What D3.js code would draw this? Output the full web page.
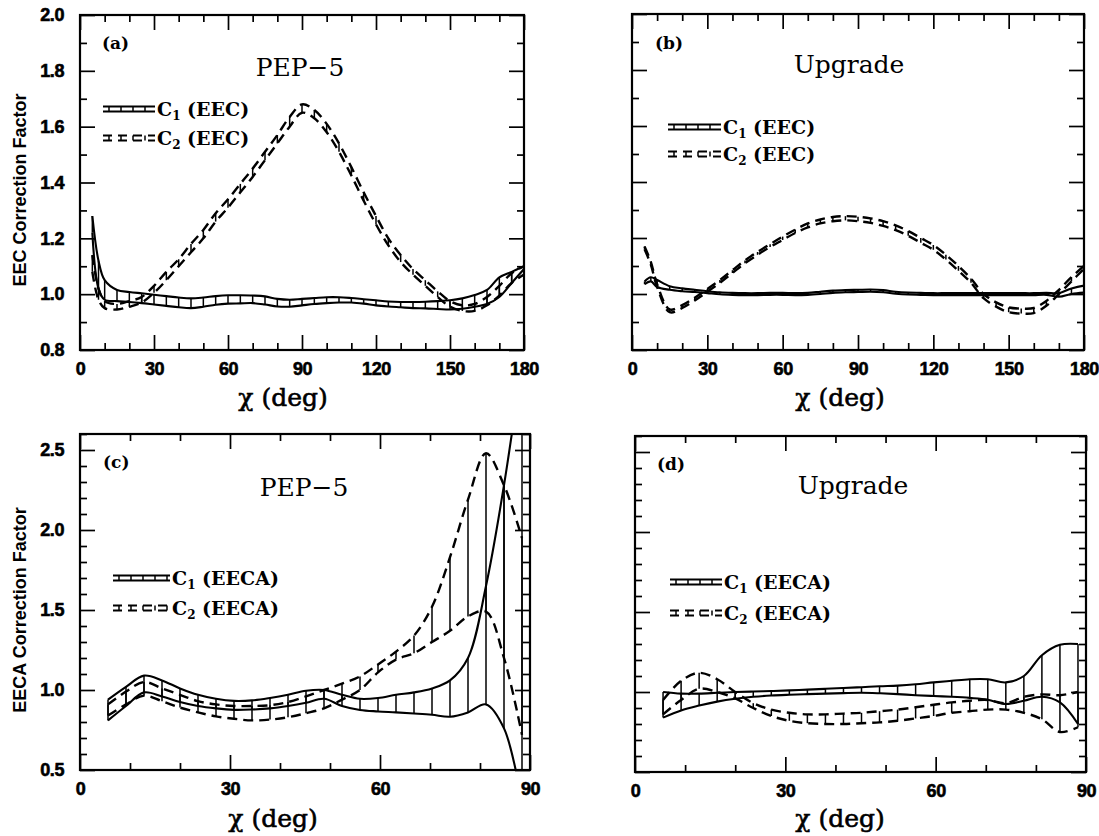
<!DOCTYPE html>
<html>
<head>
<meta charset="utf-8">
<script src="https://cdn.jsdelivr.net/npm/d3@7"></script>
<style>
  body { margin: 0; background: #fff; }
</style>
</head>
<body>
<script>
// chi bins (deg)
const chiWide = [5, 7.5, 10, 15, 20, 25, 30, 35, 40, 45, 50, 55, 60, 65, 70, 75, 80, 85, 90,
  95, 100, 105, 110, 115, 120, 125, 130, 135, 140, 145, 150, 155, 160, 165, 170, 175, 180];
const chiNarrow = [5.6, 9.2, 12.8, 16.4, 20, 23.6, 27.2, 30.8, 34.4, 38, 41.6, 45.2, 48.8,
  52.4, 56, 59.6, 63.2, 66.8, 70.4, 74, 77.6, 81.2, 84.8, 88.4];

// (a) EEC, PEP-5
const eecPepC1Hi = [1.28, 1.12, 1.05, 1.015, 1.008, 1.003, 0.998, 0.993, 0.988, 0.985, 0.988, 0.993, 0.996,
  0.996, 0.995, 0.992, 0.983, 0.980, 0.983, 0.986, 0.989, 0.989, 0.986, 0.982, 0.978, 0.974, 0.972,
  0.972, 0.973, 0.975, 0.978, 0.985, 0.997, 1.015, 1.06, 1.08, 1.10];
const eecPepC1Lo = [1.22, 1.02, 0.98, 0.975, 0.972, 0.968, 0.963, 0.958, 0.953, 0.950, 0.955, 0.962, 0.966,
  0.967, 0.968, 0.963, 0.956, 0.955, 0.960, 0.965, 0.968, 0.970, 0.970, 0.966, 0.960, 0.956, 0.953,
  0.950, 0.949, 0.947, 0.945, 0.948, 0.955, 0.965, 0.990, 1.04, 1.09];
const eecPepC2Hi = [1.14, 1.02, 0.975, 0.965, 0.975, 0.99, 1.03, 1.08, 1.125, 1.18, 1.23, 1.29, 1.34,
  1.395, 1.45, 1.51, 1.57, 1.635, 1.68, 1.66, 1.61, 1.54, 1.455, 1.365, 1.28, 1.2, 1.14,
  1.09, 1.05, 1.01, 0.975, 0.96, 0.965, 0.99, 1.03, 1.075, 1.1];
const eecPepC2Lo = [1.08, 0.98, 0.95, 0.945, 0.955, 0.97, 1.005, 1.05, 1.10, 1.15, 1.20, 1.26, 1.31,
  1.365, 1.42, 1.48, 1.54, 1.60, 1.65, 1.63, 1.58, 1.51, 1.425, 1.335, 1.25, 1.175, 1.115,
  1.07, 1.03, 0.99, 0.955, 0.94, 0.94, 0.96, 0.995, 1.04, 1.07];

// (b) EEC, Upgrade
const eecUpgC1Hi = [1.045, 1.06, 1.05, 1.028, 1.02, 1.015, 1.01, 1.006, 1.004, 1.003, 1.003, 1.004, 1.004,
  1.003, 1.004, 1.008, 1.012, 1.014, 1.015, 1.016, 1.014, 1.008, 1.005, 1.004, 1.003, 1.003, 1.003,
  1.003, 1.003, 1.003, 1.003, 1.003, 1.003, 1.004, 1.003, 1.02, 1.03];
const eecUpgC1Lo = [1.035, 1.045, 1.025, 1.015, 1.01, 1.007, 1.003, 0.999, 0.997, 0.996, 0.996, 0.997, 0.997,
  0.996, 0.997, 1.0, 1.004, 1.006, 1.007, 1.008, 1.006, 1.001, 0.998, 0.997, 0.996, 0.996, 0.996,
  0.996, 0.996, 0.996, 0.996, 0.996, 0.996, 0.997, 0.99, 1.0, 1.005];
const eecUpgC2Hi = [1.17, 1.115, 1.035, 0.945, 0.96, 0.987, 1.018, 1.05, 1.085, 1.12, 1.15, 1.178, 1.205,
  1.23, 1.252, 1.266, 1.275, 1.278, 1.276, 1.27, 1.26, 1.245, 1.225, 1.2, 1.175, 1.14, 1.1,
  1.055, 1.0, 0.97, 0.952, 0.948, 0.95, 0.975, 1.015, 1.06, 1.1];
const eecUpgC2Lo = [1.16, 1.105, 1.025, 0.935, 0.95, 0.977, 1.008, 1.04, 1.075, 1.11, 1.14, 1.168, 1.193,
  1.218, 1.238, 1.252, 1.26, 1.263, 1.26, 1.254, 1.243, 1.228, 1.208, 1.183, 1.158, 1.123, 1.083,
  1.04, 0.985, 0.955, 0.935, 0.93, 0.932, 0.958, 1.0, 1.045, 1.09];

// (c) EECA, PEP-5
const eecaPepC1Hi = [0.94, 1.02, 1.09, 1.06, 1.01, 0.97, 0.945, 0.932, 0.935, 0.95, 0.97, 0.995,
  1.0, 0.97, 0.945, 0.95, 0.97, 0.985, 1.01, 1.06, 1.20, 1.65, 2.28, 3.05];
const eecaPepC1Lo = [0.81, 0.90, 0.985, 0.96, 0.925, 0.90, 0.885, 0.876, 0.878, 0.885, 0.90, 0.92,
  0.945, 0.90, 0.875, 0.866, 0.86, 0.853, 0.845, 0.833, 0.86, 0.91, 0.76, 0.30];
const eecaPepC2Hi = [0.91, 0.99, 1.05, 1.01, 0.97, 0.93, 0.91, 0.90, 0.90, 0.905, 0.925, 0.96,
  1.0, 1.04, 1.085, 1.16, 1.24, 1.34, 1.52, 1.83, 2.19, 2.48, 2.28, 1.95];
const eecaPepC2Lo = [0.84, 0.91, 0.965, 0.93, 0.89, 0.86, 0.835, 0.82, 0.81, 0.815, 0.83, 0.855,
  0.885, 0.94, 1.0, 1.11, 1.19, 1.23, 1.30, 1.37, 1.46, 1.49, 1.20, 0.72];

// (d) EECA, Upgrade
const eecaUpgC1Hi = [1.0, 0.99, 0.99, 0.995, 1.0, 1.003, 1.006, 1.01, 1.015, 1.02, 1.025, 1.03,
  1.036, 1.04, 1.048, 1.06, 1.07, 1.08, 1.08, 1.06, 1.10, 1.23, 1.295, 1.30];
const eecaUpgC1Lo = [0.84, 0.885, 0.915, 0.94, 0.958, 0.97, 0.978, 0.983, 0.987, 0.99, 0.993, 0.995,
  0.992, 0.987, 0.98, 0.975, 0.97, 0.963, 0.952, 0.925, 0.945, 0.97, 0.935, 0.80];
const eecaUpgC2Hi = [0.95, 1.07, 1.12, 1.08, 1.0, 0.93, 0.89, 0.87, 0.86, 0.86, 0.865, 0.87,
  0.88, 0.89, 0.905, 0.92, 0.935, 0.945, 0.95, 0.93, 0.97, 0.985, 0.98, 1.0];
const eecaUpgC2Lo = [0.86, 0.95, 1.02, 1.0, 0.96, 0.90, 0.85, 0.82, 0.805, 0.80, 0.80, 0.805,
  0.81, 0.82, 0.835, 0.85, 0.87, 0.88, 0.89, 0.89, 0.87, 0.83, 0.75, 0.78];

// axis ticks / labels
const xTicksWide = [0, 30, 60, 90, 120, 150, 180];
const xTicksNarrow = [0, 30, 60, 90];
const yTicksEec = [0.8, 1.0, 1.2, 1.4, 1.6, 1.8, 2.0];
const yTicksEeca = [0.5, 1.0, 1.5, 2.0, 2.5];
const xTitle = "\u03c7 (deg)";

const width = 1099;
const height = 836;
const sans = "'Liberation Sans', Arial, sans-serif";
const serif = "'DejaVu Serif', serif";

const svg = d3.select("body")
    .append("svg")
    .attr("width", width)
    .attr("height", height);

const panels = [
    {key: "a", tag: "(a)", title: "PEP\u22125", obs: "EEC",
        left: 80, right: 524, top: 15, bottom: 350,
        xDomain: [0, 180], yDomain: [0.8, 2.0], xTicks: xTicksWide, xMinor: 10,
        yTicks: yTicksEec, yMinor: 0.1, yTitle: "EEC Correction Factor",
        chi: chiWide, c1: [eecPepC1Lo, eecPepC1Hi], c2: [eecPepC2Lo, eecPepC2Hi],
        tagX: 102, tagY: 49, titleX: 300, titleY: 76, xTitleX: 283, xTitleY: 406,
        yTitleY: 190, legX: 103, legX2: 155, legY: 109, legGap: 29},
    {key: "b", tag: "(b)", title: "Upgrade", obs: "EEC",
        left: 632, right: 1084, top: 14, bottom: 350,
        xDomain: [0, 180], yDomain: [0.8, 2.0], xTicks: xTicksWide, xMinor: 10,
        yTicks: yTicksEec, yMinor: 0.1, yTitle: null,
        chi: chiWide, c1: [eecUpgC1Lo, eecUpgC1Hi], c2: [eecUpgC2Lo, eecUpgC2Hi],
        tagX: 655, tagY: 49, titleX: 849, titleY: 73, xTitleX: 840, xTitleY: 406,
        legX: 668, legX2: 721, legY: 127, legGap: 27},
    {key: "c", tag: "(c)", title: "PEP\u22125", obs: "EECA",
        left: 80, right: 530, top: 434, bottom: 770,
        xDomain: [0, 90], yDomain: [0.5, 2.6], xTicks: xTicksNarrow, xMinor: 10,
        yTicks: yTicksEeca, yMinor: 0.1, yTitle: "EECA Correction Factor",
        chi: chiNarrow, c1: [eecaPepC1Lo, eecaPepC1Hi], c2: [eecaPepC2Lo, eecaPepC2Hi],
        tagX: 103, tagY: 468, titleX: 304, titleY: 496, xTitleX: 273, xTitleY: 827,
        yTitleY: 610, legX: 113, legX2: 170, legY: 578, legGap: 30},
    {key: "d", tag: "(d)", title: "Upgrade", obs: "EECA",
        left: 635, right: 1086, top: 436, bottom: 772,
        xDomain: [0, 90], yDomain: [0.5, 2.6], xTicks: xTicksNarrow, xMinor: 10,
        yTicks: yTicksEeca, yMinor: 0.1, yTitle: null,
        chi: chiNarrow, c1: [eecaUpgC1Lo, eecaUpgC1Hi], c2: [eecaUpgC2Lo, eecaUpgC2Hi],
        tagX: 657, tagY: 470, titleX: 853, titleY: 494, xTitleX: 840, xTitleY: 827,
        legX: 670, legX2: 722, legY: 582, legGap: 31}
];

const styleAxis = sel => {
    sel.select(".domain").remove();
    sel.selectAll("line").attr("stroke", "#000").attr("stroke-width", 1.7);
    sel.selectAll("text")
        .attr("fill", "#000")
        .attr("stroke", "#000")
        .attr("stroke-width", 0.6)
        .attr("font-family", sans)
        .attr("font-weight", "bold")
        .attr("font-size", 18)
        .attr("letter-spacing", -0.4);
};

const minorTicks = (dom, step, majors) => d3.range(dom[0], dom[1] + step / 2, step)
    .map(v => +v.toFixed(3))
    .filter(v => !majors.some(m => Math.abs(m - v) < step / 10));

const drawBand = (g, x, y, chi, lo, hi, dashed) => {
    const pts = chi.map((c, i) => ({c: c, lo: lo[i], hi: hi[i]}));
    const line = d3.line().curve(d3.curveCatmullRom.alpha(0.5)).x(d => x(d.c));
    ["lo", "hi"].forEach(k => {
        g.append("path")
            .datum(pts)
            .attr("d", line.y(d => y(d[k])))
            .attr("fill", "none")
            .attr("stroke", "#000")
            .attr("stroke-width", dashed ? 2.4 : 2.1)
            .attr("stroke-dasharray", dashed ? "10,6" : null);
    });
    g.selectAll(null)
        .data(pts)
        .enter()
        .append("line")
        .attr("x1", d => x(d.c))
        .attr("x2", d => x(d.c))
        .attr("y1", d => y(d.lo))
        .attr("y2", d => y(d.hi))
        .attr("stroke", "#000")
        .attr("stroke-width", 1.5);
};

const legendRow = (g, p, yc, dashed, idx) => {
    [-2.5, 2.5].forEach(off => {
        g.append("line")
            .attr("x1", p.legX).attr("x2", p.legX2)
            .attr("y1", yc + off).attr("y2", yc + off)
            .attr("stroke", "#000").attr("stroke-width", 2.2)
            .attr("stroke-dasharray", dashed ? "9,6" : null);
    });
    d3.range(p.legX + 6, p.legX2, 12).forEach(hx => {
        g.append("line")
            .attr("x1", hx).attr("x2", hx)
            .attr("y1", yc - 2.5).attr("y2", yc + 2.5)
            .attr("stroke", "#000").attr("stroke-width", 1.5);
    });
    const t = g.append("text")
        .attr("x", p.legX2 + 2)
        .attr("y", yc + 7)
        .attr("font-family", serif)
        .attr("font-weight", "bold")
        .attr("font-size", 19);
    t.append("tspan").text("C");
    t.append("tspan").attr("font-size", 12).attr("dy", 4).text(idx);
    t.append("tspan").attr("dy", -4).text(` (${p.obs})`);
};

panels.forEach(p => {
    const x = d3.scaleLinear().domain(p.xDomain).range([p.left, p.right]);
    const y = d3.scaleLinear().domain(p.yDomain).range([p.bottom, p.top]);
    const g = svg.append("g").attr("id", "panel-" + p.key);

    const xMinor = minorTicks(p.xDomain, p.xMinor, p.xTicks);
    const yMinor = minorTicks(p.yDomain, p.yMinor, p.yTicks);

    // ticks on all four sides, pointing inward
    g.append("g").attr("transform", `translate(0,${p.bottom})`)
        .call(d3.axisBottom(x).tickValues(p.xTicks).tickSize(-15).tickPadding(12).tickFormat(d3.format("d")))
        .call(styleAxis);
    g.append("g").attr("transform", `translate(0,${p.bottom})`)
        .call(d3.axisBottom(x).tickValues(xMinor).tickSize(-7).tickFormat(""))
        .call(styleAxis);
    g.append("g").attr("transform", `translate(0,${p.top})`)
        .call(d3.axisTop(x).tickValues(p.xTicks).tickSize(-15).tickFormat(""))
        .call(styleAxis);
    g.append("g").attr("transform", `translate(0,${p.top})`)
        .call(d3.axisTop(x).tickValues(xMinor).tickSize(-7).tickFormat(""))
        .call(styleAxis);
    g.append("g").attr("transform", `translate(${p.left},0)`)
        .call(d3.axisLeft(y).tickValues(p.yTicks).tickSize(-15).tickPadding(16)
            .tickFormat(p.yTitle ? d3.format(".1f") : ""))
        .call(styleAxis);
    g.append("g").attr("transform", `translate(${p.left},0)`)
        .call(d3.axisLeft(y).tickValues(yMinor).tickSize(-7).tickFormat(""))
        .call(styleAxis);
    g.append("g").attr("transform", `translate(${p.right},0)`)
        .call(d3.axisRight(y).tickValues(p.yTicks).tickSize(-15).tickFormat(""))
        .call(styleAxis);
    g.append("g").attr("transform", `translate(${p.right},0)`)
        .call(d3.axisRight(y).tickValues(yMinor).tickSize(-7).tickFormat(""))
        .call(styleAxis);

    // curves
    const clipId = "clip-" + p.key;
    svg.append("clipPath").attr("id", clipId)
        .append("rect")
        .attr("x", p.left).attr("y", p.top)
        .attr("width", p.right - p.left).attr("height", p.bottom - p.top);
    const plot = g.append("g").attr("clip-path", `url(#${clipId})`);
    drawBand(plot, x, y, p.chi, p.c1[0], p.c1[1], false);
    drawBand(plot, x, y, p.chi, p.c2[0], p.c2[1], true);

    // frame
    g.append("rect")
        .attr("x", p.left).attr("y", p.top)
        .attr("width", p.right - p.left).attr("height", p.bottom - p.top)
        .attr("fill", "none").attr("stroke", "#000").attr("stroke-width", 2.2);

    // labels
    g.append("text")
        .attr("x", p.tagX).attr("y", p.tagY)
        .attr("font-family", serif).attr("font-weight", "bold").attr("font-size", 17)
        .text(p.tag);
    g.append("text")
        .attr("x", p.titleX).attr("y", p.titleY)
        .attr("text-anchor", "middle")
        .attr("font-family", serif).attr("font-size", 25)
        .text(p.title);
    g.append("text")
        .attr("x", p.xTitleX).attr("y", p.xTitleY)
        .attr("text-anchor", "middle")
        .attr("font-family", serif).attr("font-size", 25)
        .attr("stroke", "#000").attr("stroke-width", 0.6)
        .text(xTitle);
    if (p.yTitle) {
        g.append("text")
            .attr("transform", `translate(26,${p.yTitleY}) rotate(-90)`)
            .attr("text-anchor", "middle")
            .attr("font-family", sans).attr("font-weight", "bold").attr("font-size", 18)
            .text(p.yTitle);
    }

    const leg = g.append("g").attr("class", "legend");
    legendRow(leg, p, p.legY, false, "1");
    legendRow(leg, p, p.legY + p.legGap, true, "2");
});
</script>
</body>
</html>
